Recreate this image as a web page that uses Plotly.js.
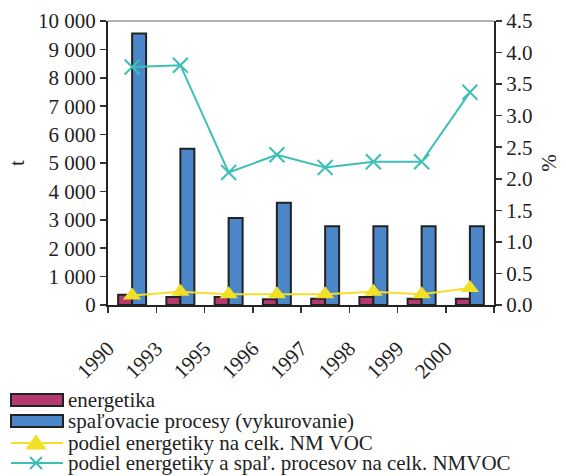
<!DOCTYPE html>
<html><head><meta charset="utf-8">
<script src="https://cdn.plot.ly/plotly-3.0.1.min.js"></script>
<style>html,body{margin:0;padding:0;background:#fff}#c{width:566px;height:476px}</style>
</head><body><div id="c"></div>
<script>
const years = ["1990","1993","1995","1996","1997","1998","1999","2000"];
const energetika = [360, 280, 280, 200, 220, 280, 220, 220];
const spalovacie = [9560, 5500, 3060, 3600, 2770, 2770, 2770, 2770];
const podielEnerg = [0.15, 0.21, 0.17, 0.17, 0.17, 0.21, 0.17, 0.27];
const podielSpal = [3.77, 3.80, 2.10, 2.38, 2.18, 2.27, 2.27, 3.37];
const seriesNames = ["energetika", "spaľovacie procesy (vykurovanie)",
  "podiel energetiky na celk. NM VOC", "podiel energetiky a spaľ. procesov na celk. NMVOC"];

const C_MAG = "#B5396F", C_BLUE = "#4A86C8", C_YEL = "#F2E028", C_CYAN = "#3DBFB8";
const xs = years.map((_, i) => i + 0.5);
const tickPos = years.map((_, i) => i).concat([years.length]);
const tickText = years.concat([""]);
const F = "Liberation Serif";

const traces = [
  {type:"bar", name:seriesNames[0], x:xs, y:energetika,
   marker:{color:C_MAG, line:{color:"#222", width:2}}},
  {type:"bar", name:seriesNames[1], x:xs, y:spalovacie,
   marker:{color:C_BLUE, line:{color:"#222", width:2}}},
  {type:"scatter", mode:"lines+markers", name:seriesNames[2],
   x:xs, y:podielEnerg, yaxis:"y2",
   line:{color:C_YEL, width:2}, marker:{symbol:"triangle-up", size:16, color:C_YEL}},
  {type:"scatter", mode:"lines+markers", name:seriesNames[3],
   x:xs, y:podielSpal, yaxis:"y2",
   line:{color:C_CYAN, width:2}, marker:{symbol:"x-thin", size:15, color:C_CYAN, line:{color:C_CYAN, width:2}}}
];

const yTicks = [0,1000,2000,3000,4000,5000,6000,7000,8000,9000,10000];
const yText = ["0","1 000","2 000","3 000","4 000","5 000","6 000","7 000","8 000","9 000","10 000"];
const y2Ticks = [0,0.5,1,1.5,2,2.5,3,3.5,4,4.5];
const y2Text = ["0.0","0.5","1.0","1.5","2.0","2.5","3.0","3.5","4.0","4.5"];

// manual legend (plot area: x 108..494 px, y 21..305 px)
const L = 108, W = 386, B = 305, H = 284;
const px = v => (v - L) / W, py = v => (B - v) / H;
const rowY = [400, 421, 443, 463];
const shapes = [
  {type:"line", xref:"paper", yref:"paper", x0:0, x1:1, y0:1, y1:1, line:{color:"#999", width:1.5}},
  {type:"rect", xref:"paper", yref:"paper", x0:px(11), x1:px(63), y0:py(rowY[0]-6), y1:py(rowY[0]+6),
   fillcolor:C_MAG, line:{color:"#222", width:2}},
  {type:"rect", xref:"paper", yref:"paper", x0:px(11), x1:px(63), y0:py(rowY[1]-6), y1:py(rowY[1]+6),
   fillcolor:C_BLUE, line:{color:"#222", width:2}},
  {type:"line", xref:"paper", yref:"paper", x0:px(11), x1:px(63), y0:py(rowY[2]), y1:py(rowY[2]),
   line:{color:C_YEL, width:2}},
  {type:"path", xref:"paper", yref:"paper",
   path:`M${px(26)},${py(rowY[2]+6)} L${px(46)},${py(rowY[2]+6)} L${px(36)},${py(rowY[2]-8)} Z`,
   fillcolor:C_YEL, line:{color:C_YEL, width:1}},
  {type:"line", xref:"paper", yref:"paper", x0:px(11), x1:px(63), y0:py(rowY[3]), y1:py(rowY[3]),
   line:{color:C_CYAN, width:2}},
  {type:"path", xref:"paper", yref:"paper",
   path:`M${px(30)},${py(rowY[3]-6)} L${px(42)},${py(rowY[3]+6)} M${px(30)},${py(rowY[3]+6)} L${px(42)},${py(rowY[3]-6)}`,
   line:{color:C_CYAN, width:2}}
];
const annotations = seriesNames.map((t, i) => ({
  text:t, xref:"paper", yref:"paper", x:px(66), y:py(rowY[i]), xanchor:"left", yanchor:"middle",
  showarrow:false, font:{family:F, size:21, color:"#222"}
}));

const tf = {family:F, size:21, color:"#222"};
const layout = {
  width:566, height:476,
  margin:{l:108, r:72, t:21, b:171},
  paper_bgcolor:"#fff", plot_bgcolor:"#fff",
  font:{family:F, size:21, color:"#222"},
  barmode:"group", bargap:0.42, bargroupgap:0,
  showlegend:false,
  xaxis:{range:[0, years.length], tickmode:"array", tickvals:tickPos, ticktext:tickText,
         tickangle:-45, ticks:"outside", ticklen:6, tickcolor:"#333", tickwidth:1.5,
         ticklabelstandoff:15,
         showline:true, linecolor:"#222", linewidth:2, showgrid:false, zeroline:false,
         tickfont:tf},
  xaxis2:{overlaying:"x", range:[0, years.length], tickmode:"array", tickvals:tickPos,
          ticks:"inside", ticklen:6, tickcolor:"#333", tickwidth:1.5, showticklabels:false,
          showline:false, showgrid:false, zeroline:false, side:"bottom"},
  yaxis:{range:[0,10000], tickmode:"array", tickvals:yTicks, ticktext:yText,
         ticks:"outside", ticklen:6, tickcolor:"#333", tickwidth:1.5,
         showline:true, linecolor:"#222", linewidth:2, showgrid:false, zeroline:false,
         title:{text:"t", font:tf, standoff:8},
         tickfont:tf},
  yaxis3:{overlaying:"y", range:[0,10000], tickmode:"array", tickvals:yTicks,
          ticks:"inside", ticklen:6, tickcolor:"#333", tickwidth:1.5, showticklabels:false,
          showline:false, showgrid:false, zeroline:false, side:"left"},
  yaxis2:{overlaying:"y", side:"right", range:[0,4.5], tickmode:"array", tickvals:y2Ticks, ticktext:y2Text,
          ticks:"outside", ticklen:6, tickcolor:"#333", tickwidth:1.5,
          showline:true, linecolor:"#222", linewidth:2, showgrid:false, zeroline:false,
          title:{text:"%", font:tf, standoff:10},
          tickfont:tf},
  yaxis4:{overlaying:"y", side:"right", range:[0,4.5], tickmode:"array", tickvals:y2Ticks,
          ticks:"inside", ticklen:6, tickcolor:"#333", tickwidth:1.5, showticklabels:false,
          showline:false, showgrid:false, zeroline:false},
  shapes:shapes, annotations:annotations
};
Plotly.newPlot("c", traces, layout, {displayModeBar:false, staticPlot:true});
</script></body></html>
